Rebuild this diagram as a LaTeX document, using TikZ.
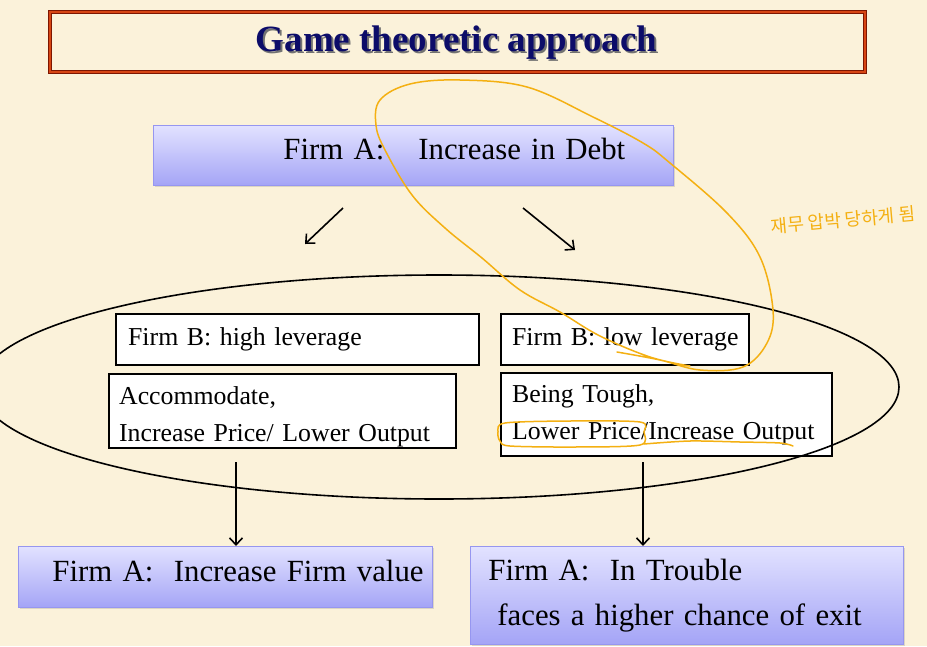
\documentclass[tikz,border=0pt]{standalone}
\usepackage{fontspec}
\setmainfont{Liberation Serif}
\newfontfamily\kofont{Noto Sans CJK KR}
\usetikzlibrary{arrows.meta, shadows}
\definecolor{parch}{RGB}{251,242,218}
\definecolor{lavtop}{RGB}{226,226,255}
\definecolor{lavbot}{RGB}{164,164,246}
\definecolor{lavedge}{RGB}{150,150,240}
\definecolor{titlenavy}{RGB}{12,12,105}
\definecolor{titlebrown}{RGB}{125,22,0}
\definecolor{titlered}{RGB}{215,70,20}
\definecolor{pen}{RGB}{244,176,18}

\begin{document}
\begin{tikzpicture}[x=1pt, y=-1pt, >={Straight Barb[length=7pt, width=13pt]},
      pb/.style={rectangle, anchor=north west, top color=lavtop, bottom color=lavbot, draw=lavedge, line width=0.8pt,
        drop shadow={shadow xshift=2pt, shadow yshift=-2pt, opacity=0.25}, inner xsep=0pt, inner ysep=0pt, align=left},
      wb/.style={rectangle, anchor=north west, draw, fill=white, line width=2.3pt, inner xsep=0pt, inner ysep=0pt, align=left},
      big/.style={font=\fontsize{30.8}{45}\selectfont},
      mid/.style={font=\fontsize{25.8}{37}\selectfont},
      hand/.style={draw=pen, line width=1.5pt, line cap=round, line join=round}]
    \useasboundingbox (0,0) rectangle (927,646);
    \fill[parch] (0,0) rectangle (927,646);

    \node[draw=titlebrown, double=titlered, double distance=1.4pt, line width=1.4pt, fill=parch,
      minimum width=815pt, minimum height=60pt] (tt) at (457.5,42) {};
    \node[font=\fontsize{37}{40}\bfseries\selectfont] (ttl) at (456.5,44)
      {\makebox[0pt][l]{\raisebox{-2pt}{\hspace{2pt}\color{black!55}Game theoretic approach}}\color{titlenavy}Game theoretic approach};

    \node[pb, big, text width=520pt, minimum height=60pt] (debt) at (153,125)
      {\hspace*{130pt}Firm A:\hspace{34pt}Increase in Debt\rule[-14pt]{0pt}{14pt}};

    \node[wb, mid, text width=363pt, minimum height=51pt] (hb) at (115,313) {\hspace*{12pt}Firm B: high leverage};
    \node[wb, mid, text width=248pt, minimum height=51pt] (lb) at (500,313) {\hspace*{11pt}Firm B: low leverage};
    \node[wb, mid, text width=347pt, minimum height=74pt] (acc) at (108,373)
      {\rule{0pt}{30pt}\hspace*{10pt}Accommodate,\\\hspace*{10pt}Increase Price/ Lower Output};
    \node[wb, mid, text width=331pt, minimum height=83pt] (tough) at (500,372)
      {\hspace*{11pt}Being Tough,\\\hspace*{11pt}Lower Price/Increase Output};

    \node[pb, big, text width=414pt, minimum height=61pt] (fa) at (18,546)
      {\hspace*{34pt}Firm A:\ \ Increase Firm value\rule[-12pt]{0pt}{12pt}};
    \node[pb, big, text width=433pt, minimum height=98pt] (ft) at (470,546)
      {\hspace*{18pt}Firm A:\ \ In Trouble\\\hspace*{27pt}faces a higher chance of exit};

    \draw[line width=1.6pt] (439,387) ellipse [x radius=460, y radius=112];

    \coordinate (l1) at (343,208);
    \coordinate (l2) at (305,244);
    \coordinate (r1) at (523,208);
    \coordinate (r2) at (575,250);
    \coordinate (d1) at (236,462);
    \coordinate (d2) at (643,462);
    \draw[->, line width=1.6pt] (l1) -- (l2);
    \draw[->, line width=1.6pt] (r1) -- (r2);
    \draw[->, line width=1.6pt] (d1) -- (d1 |- fa.north);
    \draw[->, line width=1.6pt] (d2) -- (d2 |- ft.north);

    \draw[hand] plot[smooth, tension=0.6] coordinates {(617,352) (660,360) (700,370) (743,367) (767,343) (773,310)
      (760,257) (727,213) (670,163) (643,143) (593,117) (527,87) (460,80) (410,84) (380,100) (376,125) (385,150)
      (412,195) (445,228) (482,258) (520,290) (560,312) (600,336) (650,357) (690,366)};
    \draw[hand] plot[smooth cycle, tension=0.5] coordinates {(510,446) (575,447) (640,445) (644,432) (640,422)
      (570,421) (505,423) (498,432) (500,441)};
    \draw[hand] plot[smooth, tension=0.5] coordinates {(644,444) (690,441) (740,442) (780,443) (793,446)};
    \node[text=pen, font=\kofont\fontsize{18}{18}\selectfont, rotate=5] (ko) at (843,220) {재무~압박~당하게~됨};
  \end{tikzpicture}
\end{document}
